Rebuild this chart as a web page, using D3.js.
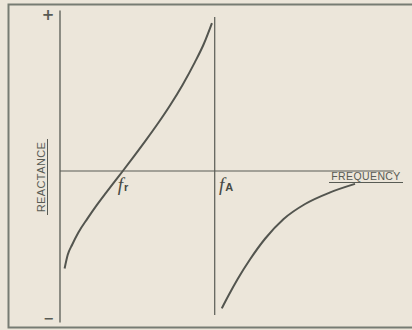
<!DOCTYPE html>
<html>
<head>
<meta charset="utf-8">
<script src="https://cdn.jsdelivr.net/npm/d3@7"></script>
<style>
  body { margin: 0; background: #ece6da; }
  svg { display: block; }
</style>
</head>
<body>
<script>
// data (frequency / reactance, arbitrary units)
const freqBelow = [0.15, 0.25, 0.4, 0.6, 0.9, 1.2, 1.5, 1.8, 2.05, 2.4, 2.8, 3.2, 3.6, 4.0, 4.4, 4.7, 4.96];
const reactBelow = [-3.25, -2.80, -2.45, -2.05, -1.58, -1.14, -0.73, -0.33, 0.0, 0.47, 1.02, 1.59, 2.20, 2.87, 3.62, 4.25, 4.93];
const freqAbove = [5.28, 5.5, 5.8, 6.2, 6.7, 7.3, 8.0, 8.8, 9.63];
const reactAbove = [-4.58, -4.15, -3.60, -2.95, -2.25, -1.60, -1.10, -0.72, -0.43];
const fr = 2.05;
const fA = 5.05;
const axisLabels = ["REACTANCE", "FREQUENCY"];
const signLabels = ["+", "\u2212"];

const width = 412, height = 330;
const ink = "#585b54";

const svg = d3.select("body").append("svg")
  .attr("width", width)
  .attr("height", height);

svg.append("rect")
  .attr("width", width).attr("height", height)
  .attr("fill", "#ece6da");

// scales
const x = d3.scaleLinear().domain([0, 11]).range([60, 397]);
const y = d3.scaleLinear().domain([-5, 5]).range([321, 21]);

// frame
svg.append("rect")
  .attr("x", 8.5).attr("y", 4.5)
  .attr("width", 410).attr("height", 323)
  .attr("fill", "none")
  .attr("stroke", "#777c73")
  .attr("stroke-width", 2);

// axes
svg.append("line")
  .attr("x1", x(0)).attr("x2", x(0))
  .attr("y1", y(5.35)).attr("y2", y(-5.05))
  .attr("stroke", ink).attr("stroke-width", 1.3);

svg.append("line")
  .attr("x1", x(0)).attr("x2", x(10.9))
  .attr("y1", y(0)).attr("y2", y(0))
  .attr("stroke", ink).attr("stroke-width", 1.1);

// anti-resonance line
svg.append("line")
  .attr("x1", x(fA)).attr("x2", x(fA))
  .attr("y1", y(5.13)).attr("y2", y(-4.8))
  .attr("stroke", ink).attr("stroke-width", 1.2);

// curves
const line = d3.line()
  .x(d => x(d[0]))
  .y(d => y(d[1]))
  .curve(d3.curveMonotoneX);

svg.append("path")
  .datum(d3.zip(freqBelow, reactBelow))
  .attr("d", line)
  .attr("fill", "none")
  .attr("stroke", "#53554f")
  .attr("stroke-width", 2);

svg.append("path")
  .datum(d3.zip(freqAbove, reactAbove))
  .attr("d", line)
  .attr("fill", "none")
  .attr("stroke", "#53554f")
  .attr("stroke-width", 2);

// + and - marks
svg.append("text")
  .attr("x", 48).attr("y", 20)
  .attr("text-anchor", "middle")
  .attr("font-family", "DejaVu Sans")
  .attr("font-weight", "bold")
  .attr("font-size", 15)
  .attr("fill", ink)
  .text(signLabels[0]);

svg.append("text")
  .attr("x", 49).attr("y", 323)
  .attr("text-anchor", "middle")
  .attr("font-family", "DejaVu Sans")
  .attr("font-weight", "bold")
  .attr("font-size", 13)
  .attr("fill", ink)
  .text(signLabels[1]);

// REACTANCE (rotated, underlined)
const yl = svg.append("g")
  .attr("transform", `translate(45, ${y(-0.2)}) rotate(-90)`);
yl.append("text")
  .attr("text-anchor", "middle")
  .attr("font-family", "Liberation Sans")
  .attr("font-size", 11)
  .attr("letter-spacing", 0.4)
  .attr("fill", ink)
  .text(axisLabels[0]);
yl.append("line")
  .attr("x1", -38).attr("x2", 38)
  .attr("y1", 2.5).attr("y2", 2.5)
  .attr("stroke", ink).attr("stroke-width", 1);

// FREQUENCY (underlined)
const xl = svg.append("g")
  .attr("transform", `translate(366, 180)`);
xl.append("text")
  .attr("text-anchor", "middle")
  .attr("font-family", "Liberation Sans")
  .attr("font-size", 10.5)
  .attr("letter-spacing", 0.4)
  .attr("fill", ink)
  .text(axisLabels[1]);
xl.append("line")
  .attr("x1", -37).attr("x2", 37)
  .attr("y1", 2.5).attr("y2", 2.5)
  .attr("stroke", ink).attr("stroke-width", 1);

// f_r and f_A labels
function freqLabel(xv, sub) {
  const t = svg.append("text")
    .attr("x", x(xv) - 5).attr("y", y(0) + 20)
    .attr("fill", "#474a44");
  t.append("tspan")
    .attr("font-family", "Liberation Serif")
    .attr("font-style", "italic")
    .attr("font-size", 19)
    .text("f");
  t.append("tspan")
    .attr("dx", 1)
    .attr("font-family", "Liberation Sans")
    .attr("font-weight", "bold")
    .attr("font-size", 11)
    .text(sub);
}
freqLabel(fr, "r");
freqLabel(fA + 0.3, "A");
</script>
</body>
</html>
